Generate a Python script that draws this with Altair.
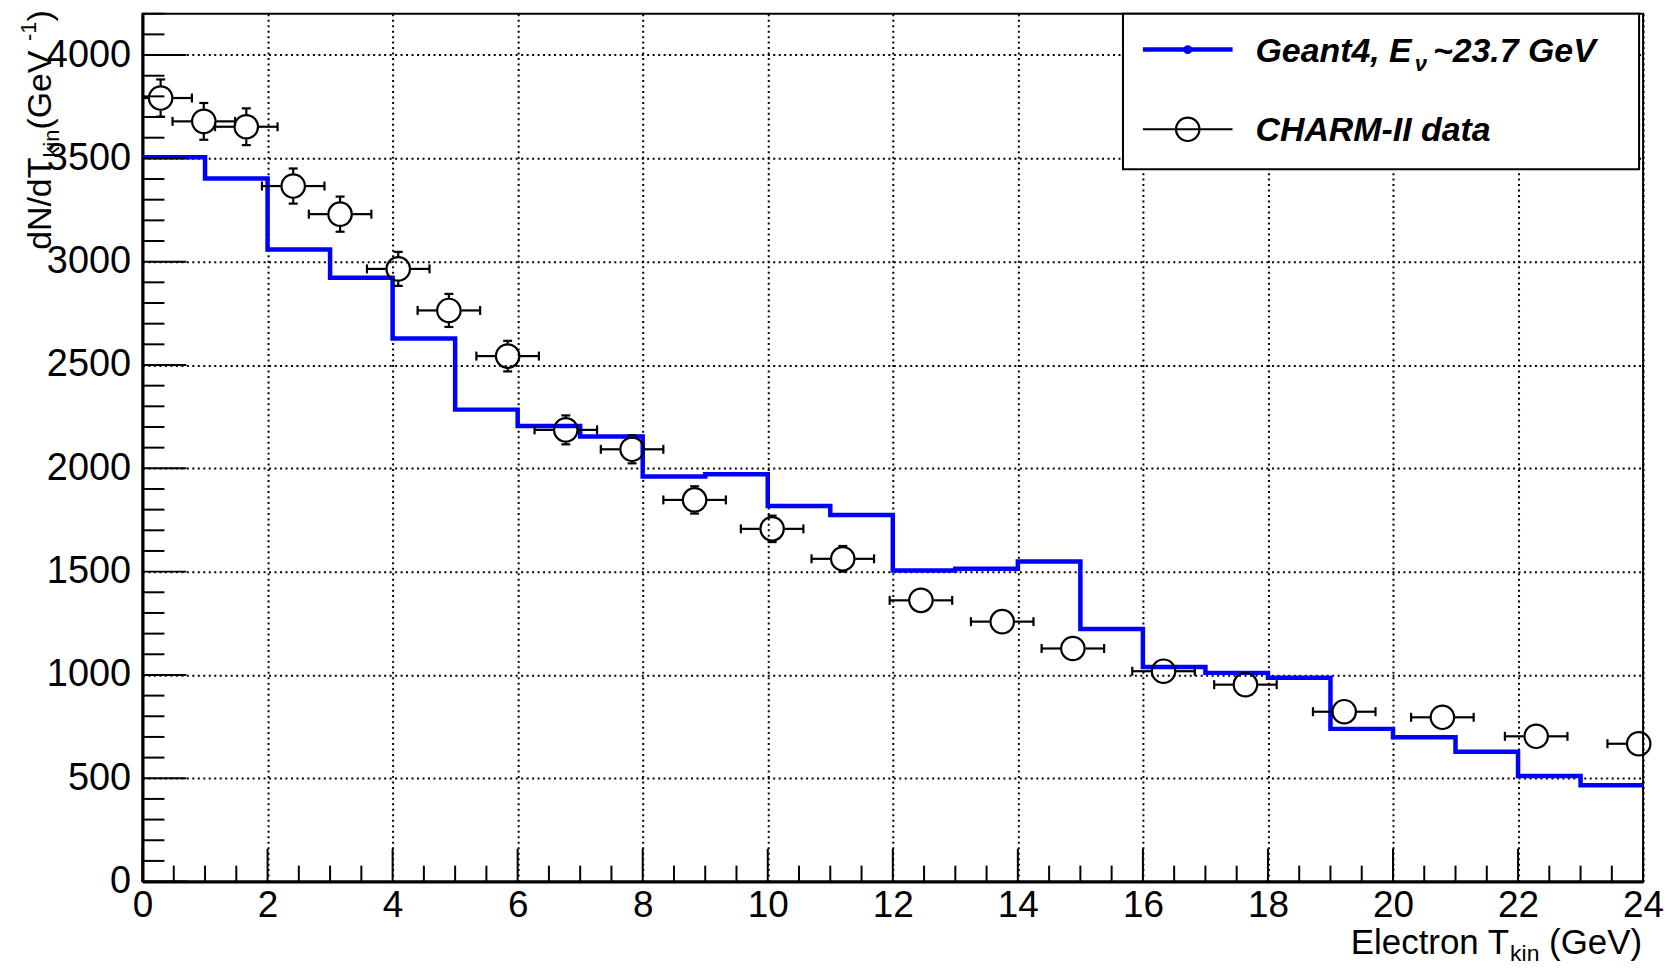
import altair as alt
import pandas as pd

# ---------------- data ----------------
bin_edges = list(range(0, 25))          # 1 GeV bins, 0..24
geant4 = [3505, 3403, 3059, 2922, 2628, 2284, 2205, 2154, 1960, 1971, 1818, 1774,
          1506, 1514, 1549, 1222, 1038, 1010, 986, 739, 698, 628, 511, 466]

data_x = [0.29, 0.98, 1.66, 2.41, 3.16, 4.09, 4.90, 5.84, 6.77, 7.83, 8.83, 10.07,
          11.20, 12.45, 13.75, 14.88, 16.33, 17.64, 19.22, 20.79, 22.29, 23.93]
data_y = [3792, 3679, 3653, 3366, 3230, 2965, 2764, 2543, 2186, 2092, 1847, 1707,
          1562, 1361, 1258, 1128, 1018, 953, 822, 795, 703, 667]
data_yerr = [90, 89, 89, 85, 85, 82, 80, 74, 70, 68, 66, 64,
             62, 60, 55, 53, 50, 49, 47, 46, 44, 43]
data_xerr = [0.5] * 22

x_major = [0, 2, 4, 6, 8, 10, 12, 14, 16, 18, 20, 22, 24]
y_major = [0, 500, 1000, 1500, 2000, 2500, 3000, 3500, 4000]
x_minor = [i * 0.5 for i in range(49) if i % 4 != 0]
y_minor = [i * 100 for i in range(43) if i % 5 != 0]

# ---------------- layout constants ----------------
W, H = 1506, 871
XMAX, YMAX = 24, 4200
FONT = "Liberation Sans"
BLUE = "#0000ff"
R = 12.5  # marker radius in px (error bars start at the marker edge)
gx = R * XMAX / W
gy = R * YMAX / H
EBW = 2.2

xs = alt.Scale(domain=[0, XMAX], nice=False, zero=False)
ys = alt.Scale(domain=[0, YMAX], nice=False, zero=False)

# Arial / Liberation Sans advance widths (per 1000 em)
REG = {" ": 278, "(": 333, ")": 333, "E": 667, "G": 778, "T": 611, "V": 667, "c": 500,
       "e": 556, "i": 222, "k": 500, "l": 222, "n": 556, "o": 556, "r": 333, "t": 278,
       "d": 556, "N": 722, "/": 278, "-": 333, "1": 556}
BOLD = {" ": 278, ",": 278, ".": 278, "2": 556, "3": 556, "4": 556, "7": 556, "E": 667,
        "G": 778, "V": 667, "a": 556, "e": 556, "n": 611, "t": 333, "~": 584, "ν": 556}


def tw(s, size, bold=False):
    tab = BOLD if bold else REG
    return sum(tab.get(c, 556) for c in s) * size / 1000.0


def txt(s, x, y, size, angle=0, weight="normal", style="normal", align="left"):
    return alt.Chart(alt.Data(values=[{"t": s}])).mark_text(
        align=align, baseline="alphabetic", font=FONT, fontSize=size,
        fontWeight=weight, fontStyle=style, angle=angle, color="black"
    ).encode(x=alt.value(x), y=alt.value(y), text="t:N")


# ---------------- histogram (step line) ----------------
step_df = pd.DataFrame({"x": bin_edges, "y": geant4 + [geant4[-1]]})
step = alt.Chart(step_df).mark_line(
    interpolate="step-after", color=BLUE, strokeWidth=4.5, strokeJoin="miter", strokeCap="butt"
).encode(
    x=alt.X("x:Q", scale=xs, axis=alt.Axis(values=x_major, format="d", title=None, grid=True,
                                           ticks=False, tickSize=0, labelPadding=6,
                                           labelFontSize=37,
                                           labelFlush=False, labelOverlap=False)),
    y=alt.Y("y:Q", scale=ys, axis=alt.Axis(values=y_major, format="d", title=None, grid=True,
                                           ticks=False, tickSize=0, labelPadding=12,
                                           labelOverlap=False)),
)

# ---------------- data points with error bars ----------------
pts = pd.DataFrame({"x": data_x, "y": data_y, "ye": data_yerr, "xe": data_xerr})
pts["xl0"] = (pts["x"] - pts["xe"]).clip(lower=0)
pts["xl1"] = pts["x"] - gx
pts["xr0"] = pts["x"] + gx
pts["xr1"] = (pts["x"] + pts["xe"]).clip(upper=XMAX)
pts["yd0"] = pts["y"] - pts["ye"]
pts["yd1"] = pts["y"] - gy
pts["yu0"] = pts["y"] + gy
pts["yu1"] = pts["y"] + pts["ye"]
pts["capL"] = pts["x"] - pts["xe"]
pts["capR"] = pts["x"] + pts["xe"]

base = alt.Chart(pts)
NOAX = dict(axis=None)

h_left = base.transform_filter("datum.xl1 > datum.xl0").mark_rule(color="black", strokeWidth=EBW).encode(
    x=alt.X("xl0:Q", scale=xs, **NOAX), x2="xl1:Q", y=alt.Y("y:Q", scale=ys, **NOAX))
h_right = base.transform_filter("datum.xr1 > datum.xr0").mark_rule(color="black", strokeWidth=EBW).encode(
    x=alt.X("xr0:Q", scale=xs, **NOAX), x2="xr1:Q", y=alt.Y("y:Q", scale=ys, **NOAX))
v_down = base.transform_filter("datum.yd1 > datum.yd0").mark_rule(color="black", strokeWidth=EBW).encode(
    x=alt.X("x:Q", scale=xs, **NOAX), y=alt.Y("yd0:Q", scale=ys, **NOAX), y2="yd1:Q")
v_up = base.transform_filter("datum.yu1 > datum.yu0").mark_rule(color="black", strokeWidth=EBW).encode(
    x=alt.X("x:Q", scale=xs, **NOAX), y=alt.Y("yu0:Q", scale=ys, **NOAX), y2="yu1:Q")

cap_l = base.transform_filter("datum.capL >= 0").mark_tick(
    orient="vertical", size=9, thickness=EBW, color="black", opacity=1).encode(
    x=alt.X("capL:Q", scale=xs, **NOAX), y=alt.Y("y:Q", scale=ys, **NOAX))
cap_r = base.transform_filter("datum.capR <= %d" % XMAX).mark_tick(
    orient="vertical", size=9, thickness=EBW, color="black", opacity=1).encode(
    x=alt.X("capR:Q", scale=xs, **NOAX), y=alt.Y("y:Q", scale=ys, **NOAX))
cap_d = base.transform_filter("datum.yd1 > datum.yd0").mark_tick(
    orient="horizontal", size=9, thickness=EBW, color="black", opacity=1).encode(
    x=alt.X("x:Q", scale=xs, **NOAX), y=alt.Y("yd0:Q", scale=ys, **NOAX))
cap_u = base.transform_filter("datum.yu1 > datum.yu0").mark_tick(
    orient="horizontal", size=9, thickness=EBW, color="black", opacity=1).encode(
    x=alt.X("x:Q", scale=xs, **NOAX), y=alt.Y("yu1:Q", scale=ys, **NOAX))

MSIZE = (2 * R - 1.5) ** 2
circles = base.mark_point(shape="circle", filled=False, size=MSIZE,
                          strokeWidth=2.2, color="black", opacity=1).encode(
    x=alt.X("x:Q", scale=xs, **NOAX), y=alt.Y("y:Q", scale=ys, **NOAX))

# ---------------- inward ticks (ROOT style) ----------------
def yticks(vals, length):
    return alt.Chart(pd.DataFrame({"v": vals})).mark_rule(color="black", strokeWidth=2).encode(
        y=alt.Y("v:Q", scale=ys, **NOAX), x=alt.value(0), x2=alt.value(length))


def xticks(vals, length):
    return alt.Chart(pd.DataFrame({"v": vals})).mark_rule(color="black", strokeWidth=2).encode(
        x=alt.X("v:Q", scale=xs, **NOAX), y=alt.value(H), y2=alt.value(H - length))


ticks = [yticks(y_major, 44), yticks(y_minor, 22), xticks(x_major, 33), xticks(x_minor, 16)]

# ---------------- legend (manual, ROOT TLegend look) ----------------
one = alt.Data(values=[{"a": 1}])
leg_box = alt.Chart(one).mark_rect(fill="white", stroke="black", strokeWidth=2).encode(
    x=alt.value(984), x2=alt.value(1502), y=alt.value(0), y2=alt.value(156))
LY1, LY2 = 36, 116
leg_l1 = alt.Chart(one).mark_rule(color=BLUE, strokeWidth=4.5).encode(
    x=alt.value(1004), x2=alt.value(1094), y=alt.value(LY1))
leg_d1 = alt.Chart(one).mark_point(shape="circle", filled=True, size=80, color=BLUE, opacity=1).encode(
    x=alt.value(1049), y=alt.value(LY1))
leg_l2 = alt.Chart(one).mark_rule(color="black", strokeWidth=2).encode(
    x=alt.value(1004), x2=alt.value(1094), y=alt.value(LY2))
leg_c2 = alt.Chart(one).mark_point(shape="circle", filled=False, size=MSIZE,
                                   strokeWidth=2.2, color="black", opacity=1).encode(
    x=alt.value(1049), y=alt.value(LY2))

LFS, LSS = 34, 22
tx0 = 1117
b1 = LY1 + 12
w_a = tw("Geant4, E", LFS, True)
w_nu = tw("ν", LSS, True)
leg_t = [
    txt("Geant4, E", tx0, b1, LFS, weight="bold", style="italic"),
    txt("ν", tx0 + w_a + 3, b1 + 9, LSS, weight="bold", style="italic"),
    txt("~23.7 GeV", tx0 + w_a + 3 + w_nu + 6, b1, LFS, weight="bold", style="italic"),
    txt("CHARM-II data", tx0, LY2 + 12, LFS, weight="bold", style="italic"),
]

# ---------------- axis titles (with sub/superscripts) ----------------
TFS, TSS = 35, 23
xr = W - 1
xb = 944
w_gev = tw("(GeV)", TFS)
w_sp = tw(" ", TFS)
w_kin = tw("kin", TSS)
xtitle = [
    txt("(GeV)", xr, xb, TFS, align="right"),
    txt("kin", xr - w_gev - w_sp, xb + 7, TSS, align="right"),
    txt("Electron T", xr - w_gev - w_sp - w_kin - 1, xb, TFS, align="right"),
]

YFS, YSS = 34, 22
yx = -92
y0 = 237
y1 = y0 - tw("dN/dT", YFS)
y2 = y1 - tw("kin", YSS)
y3 = y2 - tw(" (GeV", YFS)
y4 = y3 - tw("-1", YSS)
ytitle = [
    txt("dN/dT", yx, y0, YFS, angle=270),
    txt("kin", yx + 8, y1, YSS, angle=270),
    txt(" (GeV", yx, y2, YFS, angle=270),
    txt("-1", yx - 15, y3, YSS, angle=270),
    txt(")", yx, y4, YFS, angle=270),
]

chart = alt.layer(
    step, h_left, h_right, v_down, v_up, cap_l, cap_r, cap_d, cap_u, circles,
    *ticks, leg_box, leg_l1, leg_d1, leg_l2, leg_c2, *leg_t, *xtitle, *ytitle
).resolve_axis(
    x="independent", y="independent"
).properties(
    width=W, height=H,
    autosize=alt.AutoSizeParams(type="none"),
    padding={"left": 135, "top": 4, "right": 24, "bottom": 86},
    background="white",
).configure_view(
    stroke="black", strokeWidth=2
).configure_axis(
    labelFont=FONT, labelFontSize=38, labelColor="black",
    gridColor="black", gridDash=[2, 3.5], gridWidth=2, gridOpacity=1,
    domainColor="black", domainWidth=3,
)

chart.save("out.html", embed_options={"renderer": "svg", "actions": False})
